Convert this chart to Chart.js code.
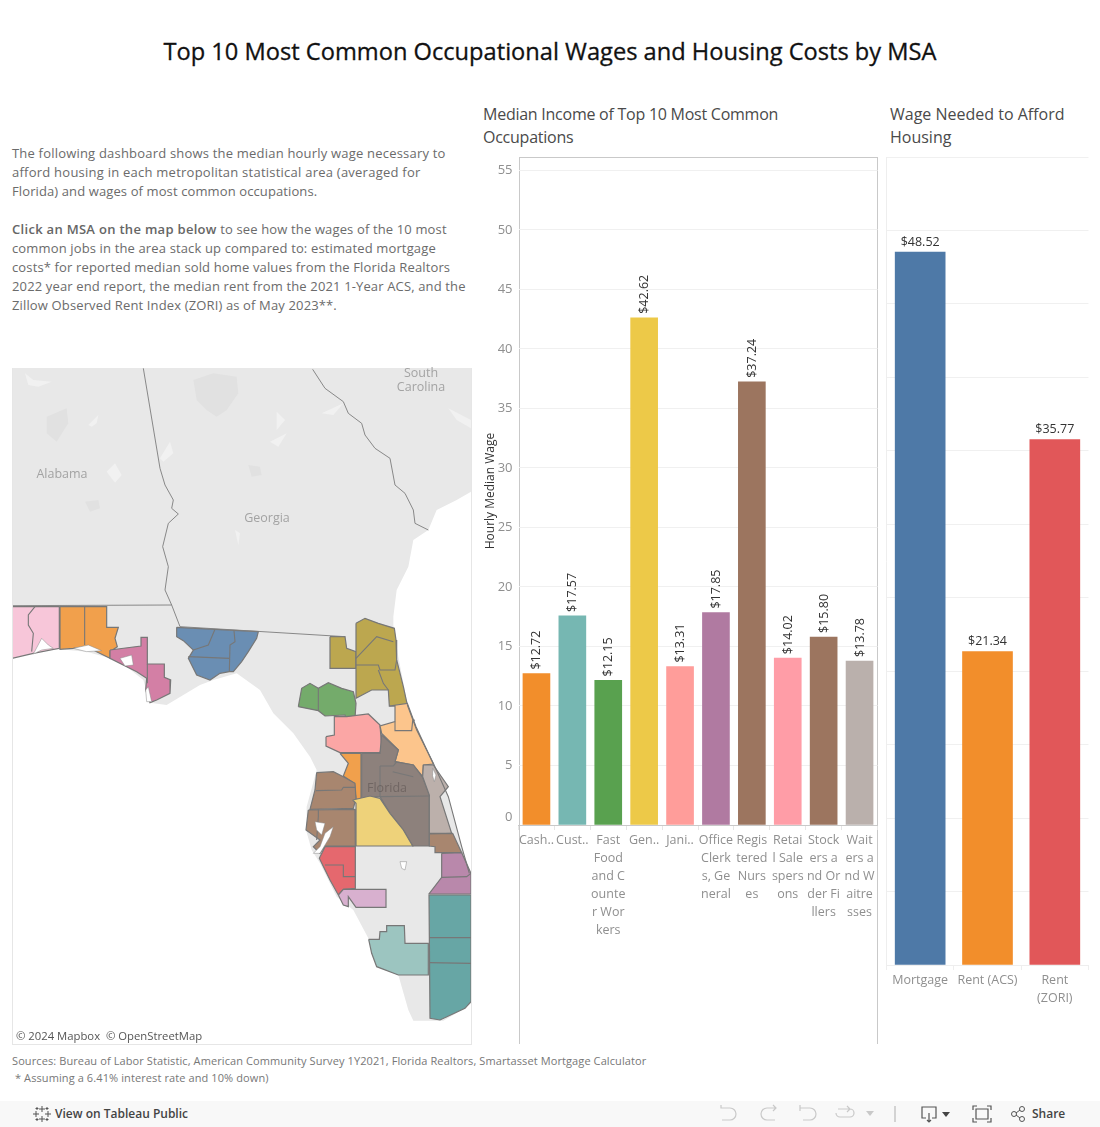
<!DOCTYPE html>
<html>
<head>
<meta charset="utf-8">
<title>Top 10 Most Common Occupational Wages and Housing Costs by MSA</title>
<script src="https://cdn.jsdelivr.net/npm/chart.js@4/dist/chart.umd.js"></script>
<style>
html,body{margin:0;padding:0;background:#fff;width:1100px;height:1127px;overflow:hidden;font-family:"Open Sans",sans-serif}
.t{position:absolute;white-space:nowrap}
canvas{position:absolute}
#title{left:0;width:1100px;top:35px;text-align:center;font-size:23.650px;line-height:33px;color:#111;-webkit-text-stroke:.3px #111}
.sub{font-size:16px;line-height:23px;color:#4a4a4a}
#intro{left:12px;top:144px;font-size:13px;line-height:19px;color:#6b6b6b;letter-spacing:.14px}
#intro b{font-weight:600;color:#666;letter-spacing:.3px}
#box{position:absolute;left:519px;top:157px;width:357px;height:886px;border:1px solid #c9c9c9;border-bottom:0}
#mapFrame{position:absolute;left:12px;top:368px;width:458px;height:676px;border:1px solid #e6e6e6;border-top:0}
.ml{font-size:12.500px;line-height:14px;color:#a3a3a3;transform:translateX(-50%);text-align:center}
#attr{left:13px;top:1028px;padding:0 3px;font-size:11.300px;line-height:15px;color:#555;background:rgba(255,255,255,.75)}
#src{left:12px;top:1052px;font-size:11px;line-height:17px;color:#777;letter-spacing:.1px}
#bar{position:absolute;left:0;top:1101px;width:1100px;height:26px;background:#f8f8f8}
.bt{top:1106px;font-size:12px;line-height:15px;color:#444;font-weight:600}
svg{position:absolute}
</style>
</head>
<body>
<div id="title" class="t">Top 10 Most Common Occupational Wages and Housing Costs by MSA</div>
<div class="t sub" style="left:483px;top:103px;letter-spacing:-.25px">Median Income of Top 10 Most Common<br>Occupations</div>
<div class="t sub" style="left:890px;top:103px">Wage Needed to Afford<br>Housing</div>
<div id="intro" class="t"><span style="letter-spacing:.2px">The following dashboard shows the median hourly wage necessary to</span><br><span style="letter-spacing:.24px">afford housing in each metropolitan statistical area (averaged for</span><br><span style="letter-spacing:.11px">Florida) and wages of most common occupations.</span><br><br><b>Click an MSA on the map below</b> to see how the wages of the 10 most<br>common jobs in the area stack up compared to: estimated mortgage<br>costs* for reported median sold home values from the Florida Realtors<br>2022 year end report, the median rent from the 2021 1-Year ACS, and the<br>Zillow Observed Rent Index (ZORI) as of May 2023**.</div>

<canvas id="mapC" width="459" height="676" style="left:12px;top:368px"></canvas>
<div id="mapFrame"></div>
<div class="t ml" style="left:62px;top:467px">Alabama</div>
<div class="t ml" style="left:267px;top:511px">Georgia</div>
<div class="t ml" style="left:421px;top:366px">South<br>Carolina</div>
<div class="t ml" style="left:387px;top:781px;color:rgba(90,80,78,.55)">Florida</div>
<div id="attr" class="t">© 2024 Mapbox&nbsp; © OpenStreetMap</div>

<div id="box"></div>
<canvas id="occC" width="415" height="910" style="left:470px;top:140px"></canvas>
<canvas id="houseC" width="220" height="900" style="left:880px;top:140px"></canvas>

<div id="src" class="t">Sources: Bureau of Labor Statistic, American Community Survey 1Y2021, Florida Realtors, Smartasset Mortgage Calculator<br>&nbsp;* Assuming a 6.41% interest rate and 10% down)</div>

<div id="bar"></div>
<svg style="left:32px;top:1104px" width="20" height="20" stroke="#555" stroke-width="1" fill="none">
  <path d="M10 2v6M7 5h6M10 12v6M7 15h6M4 7v6M1 10h6M16 7v6M13 10h6M5 3v3M3.500 4.500h3M15 3v3M13.500 4.500h3M5 14v3M3.500 15.500h3M15 14v3M13.500 15.500h3"/>
</svg>
<div class="t bt" style="left:55px">View on Tableau Public</div>
<svg style="left:715px;top:1102px" width="290" height="24" fill="none" stroke="#c9c9c9" stroke-width="1.200">
  <path d="M9 6h-3v-3M6 6h9a6 6 0 0 1 0 12h-8"/>
  <path d="M60 6h-9a6 6 0 0 0 0 12h8M57 3l3 3-3 3" transform="translate(1 0)"/>
  <path d="M85 3v6M85 6h10a6 6 0 0 1 0 12h-7"/>
  <path d="M123 7h12a4 4 0 0 1 0 8h-10a4 4 0 0 1 -4-4M132 4l3 3-3 3"/>
  <path d="M151 9l8 0-4 5z" fill="#c9c9c9" stroke="none"/>
  <path d="M180 4v16" stroke="#bbb"/>
  <g stroke="#555">
    <path d="M211 16h-4v-11h14v11h-4M214 11v9M212 18l2 2 2-2"/>
    <path d="M262 4h-4v4M272 4h4v4M262 20h-4v-4M272 20h4v-4M261 7h12v10h-12z"/>
  </g>
  <path d="M227 10h8l-4 5z" fill="#444" stroke="none"/>
</svg>
<svg style="left:1010px;top:1105px" width="20" height="20" fill="none" stroke="#555" stroke-width="1">
  <circle cx="4" cy="9" r="2.500"/><circle cx="12" cy="4" r="2.500"/><circle cx="12" cy="14" r="2.500"/><path d="M6 8l4-3M6 10l4 3"/>
</svg>
<div class="t bt" style="left:1032px">Share</div>

<script>
/* ═══ DATA ═══ */
const occLabels=[['Cash..'],['Cust..'],['Fast','Food','and C','ounte','r Wor','kers'],['Gen..'],['Jani..'],
  ['Office','Clerk','s, Ge','neral'],['Regis','tered','Nurs','es'],['Retai','l Sale','spers','ons'],
  ['Stock','ers a','nd Or','der Fi','llers'],['Wait','ers a','nd W','aitre','sses']];
const occWages=[12.72,17.57,12.15,42.62,13.31,17.85,37.24,14.02,15.80,13.78];
const occColors=['#f28e2b','#76b7b2','#59a14f','#edc948','#ff9d9a','#b07aa1','#9c755f','#ff9da7','#9c755f','#bab0ac'];
const occTicks=[0,5,10,15,20,25,30,35,40,45,50,55];

const houseLabels=['Mortgage','Rent (ACS)',['Rent','(ZORI)']];
const houseWages=[48.52,21.34,35.77];
const houseColors=['#4e79a7','#f28e2b','#e15759'];

/* map outlines, in map units (x east, y south) */
const land=[[36,-666],[1413,-666],[1413,-295],[1370,-270],[1310,-240],[1285,-180],[1240,-150],[1225,-70],[1190,0],[1180,80],[1180,105],[1195,200],[1220,330],[1250,420],[1300,520],[1345,620],[1385,770],[1413,850],[1413,1240],[1395,1255],[1330,1292],[1240,1292],[1225,1260],[1195,1155],[1130,1130],[1105,1045],[1060,960],[1010,920],[960,820],[935,780],[918,720],[920,650],[950,540],[930,500],[880,430],[820,370],[780,300],[710,250],[640,270],[600,285],[500,345],[450,338],[430,270],[380,230],[330,205],[260,185],[180,178],[100,185],[36,205]];
const pensacola=[[36,50],[178,50],[178,175],[100,190],[36,205]];
const crestview=[[180,50],[320,50],[320,112],[355,112],[345,145],[352,170],[330,185],[330,205],[290,185],[260,170],[220,175],[180,178]];
const panamaCity=[[330,180],[423,168],[423,142],[442,142],[442,222],[493,222],[493,262],[512,270],[510,310],[470,330],[450,338],[437,300],[440,265],[410,245],[380,230],[330,205]];
const tallahassee=[[530,112],[775,125],[770,145],[745,185],[725,215],[700,245],[688,245],[660,250],[630,270],[590,255],[575,225],[565,205],[580,180],[550,152],[530,140]];
const lakeCity=[[990,140],[1035,140],[1040,175],[1068,185],[1068,235],[990,235]];
const jacksonville=[[1068,100],[1095,85],[1135,100],[1183,115],[1188,150],[1190,210],[1210,290],[1222,345],[1168,348],[1165,300],[1115,300],[1068,325]];
const ocala=[[895,350],[905,295],[930,280],[955,295],[985,278],[1025,295],[1060,305],[1068,340],[1065,385],[1040,388],[1035,375],[975,378],[955,362]];
const gainesville=[[978,440],[1003,435],[1003,380],[1040,380],[1105,372],[1140,405],[1145,470],[1140,488],[1020,488],[978,468]];
const daytona=[[1168,348],[1222,340],[1248,410],[1300,522],[1270,525],[1268,560],[1240,525],[1185,515],[1195,480],[1145,430],[1140,408],[1185,395],[1185,348]];
const sumter=[[1020,490],[1083,490],[1083,628],[1068,628],[1063,580],[1030,558],[1045,520]];
const orlando=[[1085,490],[1140,490],[1145,435],[1195,480],[1185,515],[1240,525],[1268,562],[1288,615],[1288,768],[1238,768],[1210,720],[1170,670],[1140,620],[1085,625]];
const hernando=[[950,548],[1000,545],[1030,560],[1065,580],[1068,625],[1060,655],[930,658],[945,600]];
const tampa=[[925,660],[1065,658],[1066,768],[975,768],[960,790],[940,770],[960,750],[918,720]];
const lakeland=[[1058,630],[1110,618],[1140,625],[1170,670],[1210,720],[1238,768],[1068,768],[1068,640]];
const sarasota=[[975,770],[1066,770],[1066,895],[1030,898],[1015,915],[990,870],[958,805]];
const capeCoral=[[1015,915],[1030,898],[1158,898],[1158,952],[1068,952],[1045,920],[1045,950],[1030,945]];
const palmBay=[[1270,525],[1300,525],[1345,590],[1320,620],[1355,730],[1288,730],[1288,615],[1268,560]];
const stLucie=[[1288,732],[1358,730],[1385,788],[1305,788],[1305,770],[1288,768]];
const palmBeach=[[1325,790],[1385,788],[1413,850],[1413,912],[1287,912],[1325,862]];
const miami=[[1287,915],[1413,915],[1413,1235],[1395,1255],[1320,1290],[1290,1285]];
const naples=[[1106,1048],[1138,1048],[1140,1025],[1160,1025],[1160,1007],[1213,1007],[1215,1060],[1285,1060],[1285,1155],[1195,1155],[1130,1130],[1115,1090]];

const regionShapes=[pensacola,crestview,panamaCity,tallahassee,lakeCity,jacksonville,ocala,gainesville,daytona,sumter,orlando,hernando,tampa,lakeland,sarasota,capeCoral,palmBay,stLucie,palmBeach,miami,naples];
const regionColors=['#f7c6d9','#f1a04c','#d37fa5','#6a8eb3','#bca74f','#bca74f','#74ab6b','#fba6a5','#fcc58c','#f1a04c','#8d817c','#a8866f','#a8866f','#eed27a','#e5686e','#d8b0cf','#bcb0ab','#a8866f','#b988ab','#67a6a5','#9cc5c0'];

/* county lines and state lines */
const countyLines=[
  [[105,50],[85,75],[85,105],[100,130],[95,185]],
  [[254,50],[254,165]],
  [[442,222],[442,280]],
  [[645,118],[625,165],[580,180]],[[565,200],[688,205]],[[702,122],[705,155],[690,165],[688,245]],
  [[1068,205],[1130,140],[1180,155]],[[1068,225],[1135,225],[1140,240],[1185,240],[1190,210]],[[1135,240],[1150,280],[1165,300]],
  [[955,295],[955,362]],
  [[1185,395],[1185,422],[1235,422],[1238,392],[1245,390]],
  [[1140,528],[1180,528],[1190,515]],[[1178,545],[1240,560]],[[1140,528],[1140,620],[1288,618]],
  [[948,602],[1025,600],[1030,592],[1065,592]],
  [[955,658],[955,680],[950,750]],
  [[975,825],[1030,825],[1030,860],[1066,860]],
  [[1325,862],[1400,860],[1413,850]],
  [[1287,1043],[1413,1043]],[[1287,1118],[1413,1120]],
  [[1222,345],[1250,420],[1300,520],[1345,620],[1385,770],[1408,850]]
];
const stateLines=[
  [[430,-665],[480,-365],[495,-315],[520,-270],[515,-245],[535,-228],[505,-200],[488,-130],[505,-70],[495,0],[515,45],[540,110],[1035,140]],
  [[36,47],[515,45]],
  [[938,-662],[975,-605],[1030,-565],[1045,-530],[1085,-500],[1095,-465],[1125,-425],[1170,-395],[1185,-315],[1215,-290],[1240,-240],[1245,-200],[1285,-180]]
];
const bayShapes=[
  [[100,192],[125,145],[145,165],[160,175],[125,180]],
  [[220,175],[265,165],[305,182],[260,185]],
  [[360,205],[395,195],[400,225],[375,228]],
  [[437,300],[445,290],[455,335],[440,335]],
  [[940,790],[960,770],[975,730],[1000,710],[990,740],[960,790]],
  [[945,695],[975,700],[965,735],[950,720]],
  [[1200,815],[1220,815],[1215,840],[1205,835]],
  [[1298,535],[1308,555],[1303,575],[1297,555]]
];
const metroShapes=[
  [[580,-630],[640,-650],[710,-640],[715,-590],[680,-540],[650,-520],[620,-540],[590,-570]],
  [[140,-520],[200,-545],[205,-500],[170,-445],[140,-470]],
  [[255,-265],[295,-270],[300,-245],[270,-235]],
  [[745,-375],[780,-370],[785,-345],[755,-340]]
];
const streamShapes=[
  [[75,-650],[100,-630],[155,-625],[115,-610],[85,-615]],
  [[265,-495],[295,-525],[290,-500],[275,-490]],
  [[320,-355],[345,-380],[365,-345],[345,-322]],
  [[480,-395],[510,-445],[520,-410],[490,-385]],
  [[810,-445],[860,-470],[835,-430]],
  [[830,-535],[855,-510],[830,-480]],
  [[965,-530],[1030,-560],[1000,-525]],
  [[705,-180],[720,-170],[715,-135]],
  [[1345,-545],[1413,-510],[1413,-485],[1370,-510]]
];

/* ═══ BUILD ═══ */
const GRID='#f0f0f0', TICK='#8f8f8f', FONT='"Open Sans",sans-serif';

// value text above each bar, read off the bar element position
const valueLabels={
  id:'valueLabels',
  afterDatasetsDraw(ch,args,o){
    const ctx=ch.ctx, bars=ch.getDatasetMeta(0).data, vals=ch.data.datasets[0].data;
    ctx.save();
    ctx.fillStyle='#333';
    ctx.font='12.5px '+FONT;
    bars.forEach((b,i)=>{
      const s='$'+vals[i].toFixed(2);
      if(o.rotate){
        ctx.save();
        ctx.translate(b.x+4,b.y-4);
        ctx.rotate(-Math.PI/2);
        ctx.textAlign='left'; ctx.textBaseline='alphabetic';
        ctx.fillText(s,0,0);
        ctx.restore();
      }else{
        ctx.textAlign='center'; ctx.textBaseline='alphabetic';
        ctx.fillText(s,b.x,b.y-6.500);
      }
    });
    ctx.restore();
  }
};

new Chart(document.getElementById('occC'),{
  type:'bar',
  data:{labels:occLabels,datasets:[{data:occWages,backgroundColor:occColors,barThickness:27}]},
  plugins:[valueLabels],
  options:{
    responsive:false,animation:false,
    layout:{padding:{top:17,right:7.500}},
    plugins:{legend:{display:false},tooltip:{enabled:false},valueLabels:{rotate:true}},
    scales:{
      x:{
        afterFit(a){a.height=225},
        grid:{drawOnChartArea:false,color:'#e6e6e6',tickLength:5},
        border:{color:'#c9c9c9'},
        ticks:{autoSkip:false,maxRotation:0,minRotation:0,padding:1,color:TICK,font:{family:FONT,size:12.500,lineHeight:'18px'}}
      },
      y:{
        min:0,max:56.130,
        afterFit(a){a.width=48.500},
        afterBuildTicks(a){a.ticks=occTicks.map(v=>({value:v}))},
        grid:{color:GRID,drawTicks:false},
        border:{display:false},
        ticks:{padding:6,color:TICK,font:{family:FONT,size:13,lineHeight:'16px'},
          callback(v){return v===0?['0','']:String(v)}},  // the zero label sits above the axis line
        title:{display:true,text:'Hourly Median Wage',color:'#333',padding:{top:13,bottom:0},font:{family:FONT,size:12}}
      }
    }
  }
});

new Chart(document.getElementById('houseC'),{
  type:'bar',
  data:{labels:houseLabels,datasets:[{data:houseWages,backgroundColor:houseColors,barThickness:50}]},
  plugins:[valueLabels],
  options:{
    responsive:false,animation:false,
    layout:{padding:{top:17,right:11.500}},
    plugins:{legend:{display:false},tooltip:{enabled:false},valueLabels:{rotate:false}},
    scales:{
      x:{
        afterFit(a){a.height=75},
        grid:{drawOnChartArea:false,color:'#eee',tickLength:5},
        border:{color:'#eee'},
        ticks:{autoSkip:false,maxRotation:0,minRotation:0,padding:1,color:TICK,font:{family:FONT,size:12.500,lineHeight:'18px'}}
      },
      y:{
        min:0,max:55,
        afterFit(a){a.width=6.500},
        afterBuildTicks(a){a.ticks=occTicks.map(v=>({value:v}))},
        grid:{color:GRID,drawTicks:false},
        border:{color:'#eee'},
        ticks:{display:false}
      }
    }
  }
});

function pts(a){return a.map(p=>({x:p[0],y:p[1]}))}
function poly(a,fill,line,w){
  return {type:'scatter',data:pts(a.concat([a[0]])),showLine:true,fill:'shape',backgroundColor:fill,borderColor:line,borderWidth:w,pointRadius:0,tension:0};
}
function path(a,line,w){
  return {type:'scatter',data:pts(a),showLine:true,fill:false,borderColor:line,borderWidth:w,pointRadius:0,tension:0};
}
const mapSets=[poly(land,'#e8e8e8','#e8e8e8',0)];
metroShapes.forEach(s=>mapSets.push(poly(s,'#e1e1e1','#e1e1e1',0)));
streamShapes.forEach(s=>mapSets.push(poly(s,'#f1f1f1','#f1f1f1',0)));
regionShapes.forEach((s,i)=>mapSets.push(poly(s,regionColors[i],'#777',1.200)));
countyLines.forEach(l=>mapSets.push(path(l,'#777',1.100)));
stateLines.forEach(l=>mapSets.push(path(l,'#7d7d7d',.900)));
bayShapes.forEach(s=>mapSets.push(poly(s,'#fff','#888',.500)));
mapSets.forEach((d,i)=>d.order=-i);

new Chart(document.getElementById('mapC'),{
  type:'scatter',
  data:{datasets:mapSets},
  options:{
    responsive:false,animation:false,
    layout:{padding:0,autoPadding:false},
    plugins:{legend:{display:false},tooltip:{enabled:false}},
    scales:{
      x:{type:'linear',display:false,min:36,max:1413},
      y:{type:'linear',display:false,min:-666,max:1362,reverse:true}
    }
  }
});
</script>
</body>
</html>
